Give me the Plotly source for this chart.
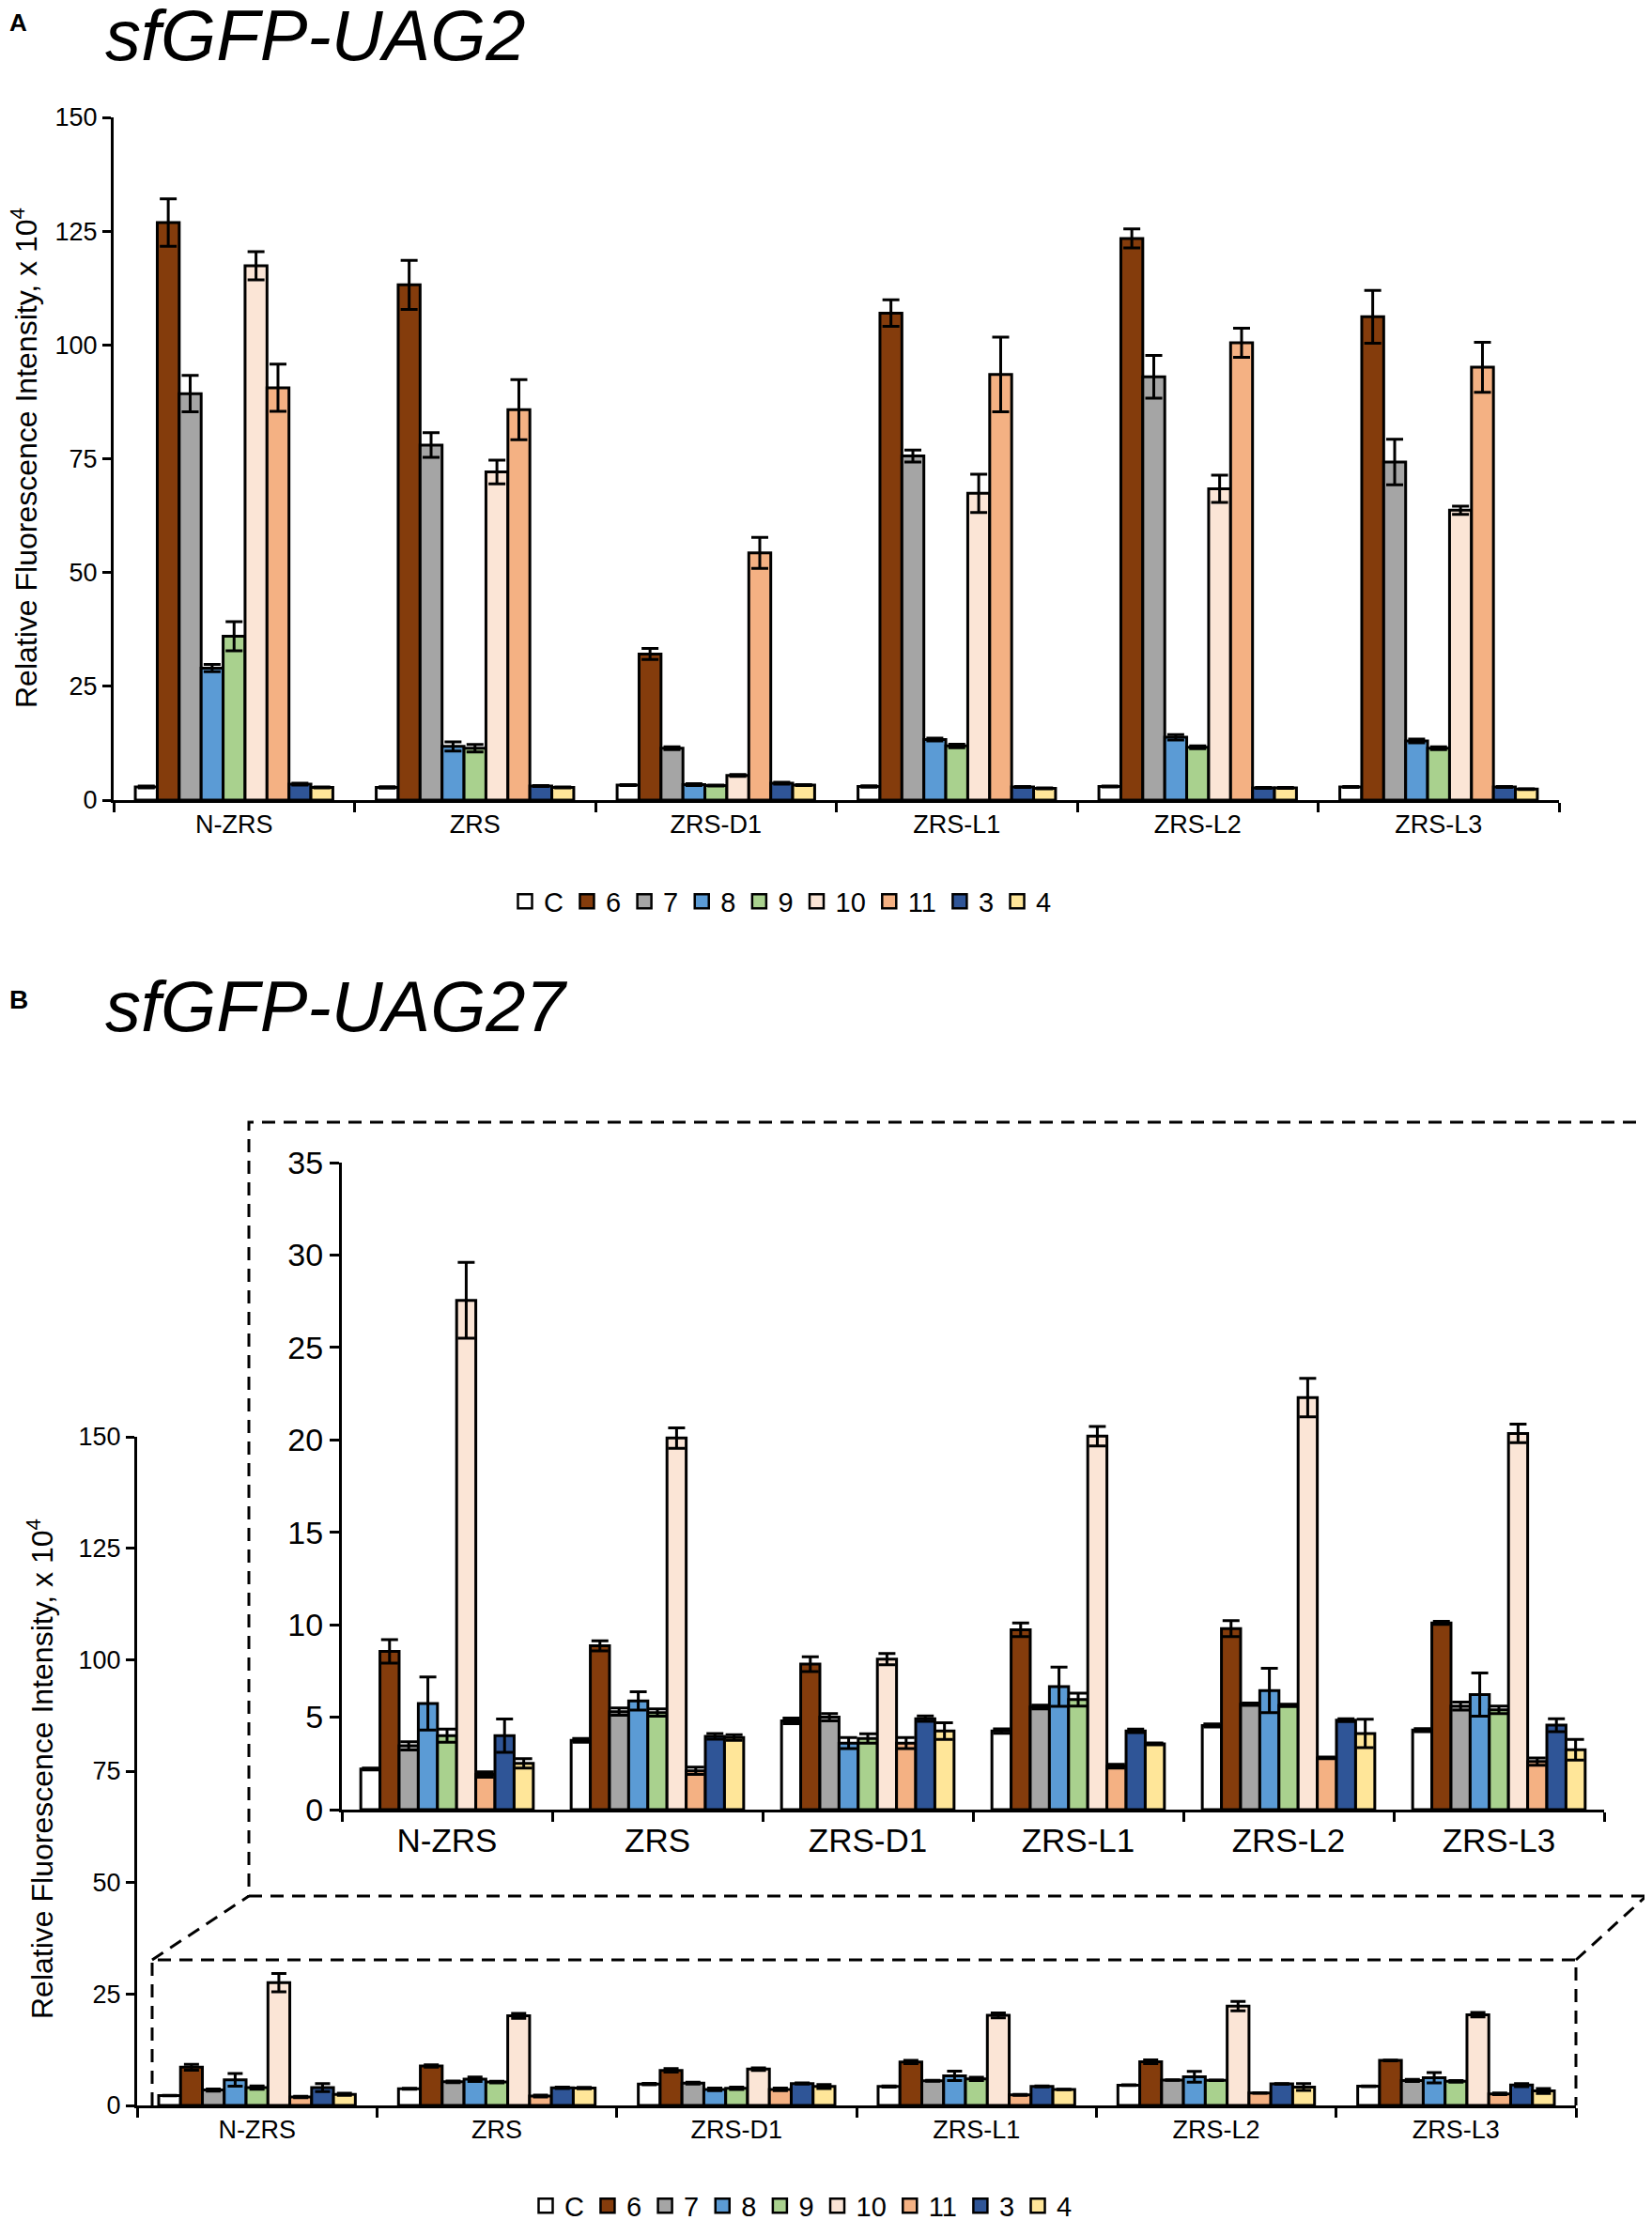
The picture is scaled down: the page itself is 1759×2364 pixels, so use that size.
import plotly.graph_objects as go

W, H = 1759, 2364
OFF = 8  # page body margin of the browser

categories = ["N-ZRS", "ZRS", "ZRS-D1", "ZRS-L1", "ZRS-L2", "ZRS-L3"]
series_names = ["C", "6", "7", "8", "9", "10", "11", "3", "4"]
series_colors = ["#FFFFFF", "#843C0C", "#A5A5A5", "#5B9BD5", "#A9D18E",
                 "#FBE5D6", "#F4B183", "#2F5597", "#FFE699"]

# Panel A: sfGFP-UAG2 (Relative fluorescence, x 10^4)
a_values = [
    [2.9, 2.8, 3.3, 3.0, 3.0, 2.9],
    [126.9, 113.2, 32.1, 107.0, 123.4, 106.2],
    [89.3, 78.0, 11.4, 75.6, 93.0, 74.3],
    [29.0, 11.8, 3.4, 13.3, 13.8, 13.0],
    [36.0, 11.4, 3.2, 11.9, 11.6, 11.4],
    [117.4, 72.1, 5.4, 67.4, 68.4, 63.7],
    [90.6, 85.8, 54.3, 93.5, 100.5, 95.1],
    [3.5, 3.1, 3.7, 2.9, 2.7, 2.9],
    [2.8, 2.8, 3.3, 2.6, 2.7, 2.4],
]
a_errors = [
    [0.2, 0.15, 0.1, 0.15, 0.1, 0.1],
    [5.2, 5.4, 1.2, 2.9, 2.1, 5.8],
    [4.0, 2.7, 0.3, 1.3, 4.7, 5.0],
    [0.8, 1.0, 0.2, 0.3, 0.6, 0.4],
    [3.2, 0.8, 0.1, 0.4, 0.3, 0.3],
    [3.1, 2.6, 0.2, 4.2, 3.0, 0.9],
    [5.2, 6.6, 3.4, 8.2, 3.2, 5.5],
    [0.2, 0.1, 0.2, 0.1, 0.1, 0.1],
    [0.1, 0.1, 0.1, 0.1, 0.1, 0.1],
]

# Panel B: sfGFP-UAG27
b_values = [
    [2.2, 3.75, 4.8, 4.25, 4.55, 4.3],
    [8.56, 8.86, 7.87, 9.73, 9.79, 10.1],
    [3.45, 5.3, 5.0, 5.55, 5.7, 5.6],
    [5.74, 5.88, 3.6, 6.65, 6.44, 6.22],
    [4.0, 5.25, 3.85, 5.95, 5.64, 5.4],
    [27.55, 20.1, 8.14, 20.2, 22.29, 20.35],
    [1.9, 2.1, 3.6, 2.35, 2.8, 2.6],
    [4.0, 3.96, 4.92, 4.26, 4.84, 4.57],
    [2.5, 3.9, 4.25, 3.56, 4.12, 3.24],
]
b_errors = [
    [0.05, 0.1, 0.15, 0.12, 0.08, 0.08],
    [0.64, 0.27, 0.4, 0.37, 0.43, 0.08],
    [0.22, 0.2, 0.2, 0.1, 0.06, 0.22],
    [1.44, 0.5, 0.3, 1.06, 1.2, 1.17],
    [0.35, 0.2, 0.25, 0.35, 0.06, 0.2],
    [2.05, 0.55, 0.3, 0.53, 1.04, 0.5],
    [0.15, 0.2, 0.3, 0.1, 0.05, 0.2],
    [0.9, 0.15, 0.15, 0.1, 0.08, 0.35],
    [0.25, 0.15, 0.45, 0.05, 0.77, 0.56],
]

a_ticks = [0, 25, 50, 75, 100, 125, 150]
b_ticks = [0, 25, 50, 75, 100, 125, 150]
inset_ticks = [0, 5, 10, 15, 20, 25, 30, 35]

FONT = "Liberation Sans, Arial, sans-serif"


def px_x(p):
    return (p - OFF) / W


def px_y(p):
    return 1 - (p - OFF) / H


fig = go.Figure()

for i, name in enumerate(series_names):
    marker = dict(color=series_colors[i], line=dict(color="black", width=3))
    fig.add_trace(go.Bar(
        x=categories, y=a_values[i], xaxis="x", yaxis="y", name=name, marker=marker,
        error_y=dict(type="data", array=a_errors[i], color="black", thickness=3, width=9),
        showlegend=False))
    fig.add_trace(go.Bar(
        x=categories, y=b_values[i], xaxis="x2", yaxis="y2", name=name, marker=marker,
        error_y=dict(type="data", array=b_errors[i], color="black", thickness=3, width=8),
        showlegend=False))
    fig.add_trace(go.Bar(
        x=categories, y=b_values[i], xaxis="x3", yaxis="y3", name=name, marker=marker,
        error_y=dict(type="data", array=b_errors[i], color="black", thickness=3, width=9),
        showlegend=False))

# legend entries (square swatches with black outline)
for leg, xa_, ya_ in (("legend", "x", "y"), ("legend2", "x2", "y2")):
    for i, name in enumerate(series_names):
        fig.add_trace(go.Scatter(
            x=[None], y=[None], xaxis=xa_, yaxis=ya_, mode="markers", name=name,
            marker=dict(symbol="square", size=15, color=series_colors[i],
                        line=dict(color="black", width=2.5)),
            legend=leg, showlegend=True, hoverinfo="skip"))

axis_common = dict(showline=True, linecolor="black", linewidth=3, showgrid=False,
                   zeroline=False, ticks="outside", tickcolor="black", tickwidth=3,
                   automargin=False, fixedrange=True)

xa = dict(axis_common, type="category", tickson="boundaries", ticklen=10)

legend_common = dict(orientation="h", xanchor="center", yanchor="middle",
                     font=dict(size=29), itemwidth=30, traceorder="normal",
                     bgcolor="rgba(0,0,0,0)", itemclick=False, itemdoubleclick=False)

fig.update_layout(
    template="none",
    width=W, height=H,
    autosize=False,
    margin=dict(l=0, r=0, t=0, b=0, pad=0, autoexpand=False),
    paper_bgcolor="white", plot_bgcolor="white",
    font=dict(family=FONT, color="black"),
    barmode="group", bargap=0.18, bargroupgap=0,
    xaxis=dict(xa, domain=[px_x(121), px_x(1660)], anchor="y",
               tickfont=dict(size=27)),
    yaxis=dict(axis_common, domain=[px_y(852), px_y(125)], anchor="x",
               range=[0, 150], tickvals=a_ticks, ticklen=9, tickfont=dict(size=27)),
    xaxis2=dict(xa, domain=[px_x(146), px_x(1678)], anchor="y2",
                tickfont=dict(size=27)),
    yaxis2=dict(axis_common, domain=[px_y(2242), px_y(1530)], anchor="x2",
                range=[0, 150], tickvals=b_ticks, ticklen=9, tickfont=dict(size=27)),
    xaxis3=dict(xa, domain=[px_x(364), px_x(1708)], anchor="y3",
                tickfont=dict(size=35)),
    yaxis3=dict(axis_common, domain=[px_y(1927), px_y(1238)], anchor="x3",
                range=[0, 35], tickvals=inset_ticks, ticklen=10, tickfont=dict(size=34)),
    legend=dict(legend_common, x=px_x(832), y=px_y(960)),
    legend2=dict(legend_common, x=px_x(854), y=px_y(2349)),
)

ytitle = "Relative Fluorescence Intensity, x 10<sup>4</sup>"
annotations = [
    dict(text="<b>A</b>", x=px_x(8), y=px_y(24), xanchor="left", yanchor="middle",
         font=dict(size=26)),
    dict(text="<i>sfGFP-UAG2</i>", x=px_x(110), y=px_y(38), xanchor="left", yanchor="middle",
         font=dict(size=76)),
    dict(text="<b>B</b>", x=px_x(8), y=px_y(1065), xanchor="left", yanchor="middle",
         font=dict(size=28)),
    dict(text="<i>sfGFP-UAG27</i>", x=px_x(110), y=px_y(1072), xanchor="left", yanchor="middle",
         font=dict(size=76)),
    dict(text=ytitle, textangle=-90, x=px_x(26), y=px_y(488), xanchor="center", yanchor="middle",
         font=dict(size=32)),
    dict(text=ytitle, textangle=-90, x=px_x(43), y=px_y(1884), xanchor="center", yanchor="middle",
         font=dict(size=32)),
]
for a in annotations:
    a.update(xref="paper", yref="paper", showarrow=False)
fig.update_layout(annotations=annotations)

dash_line = dict(color="black", width=3, dash="14px,9px")
shapes = [
    # inset frame
    dict(type="rect", x0=px_x(265), x1=px_x(1753), y0=px_y(2019), y1=px_y(1195)),
    # zoomed region frame (open at bottom)
    dict(type="path",
         path=f"M {px_x(162)},{px_y(2242)} L {px_x(162)},{px_y(2087)} "
              f"L {px_x(1678)},{px_y(2087)} L {px_x(1678)},{px_y(2242)}"),
    # connectors
    dict(type="line", x0=px_x(162), y0=px_y(2087), x1=px_x(265), y1=px_y(2019)),
    dict(type="line", x0=px_x(1678), y0=px_y(2087), x1=px_x(1753), y1=px_y(2019)),
]
for s in shapes:
    s.update(xref="paper", yref="paper", line=dash_line, layer="above")
fig.update_layout(shapes=shapes)

fig.write_html("out.html", config={"displayModeBar": False})
